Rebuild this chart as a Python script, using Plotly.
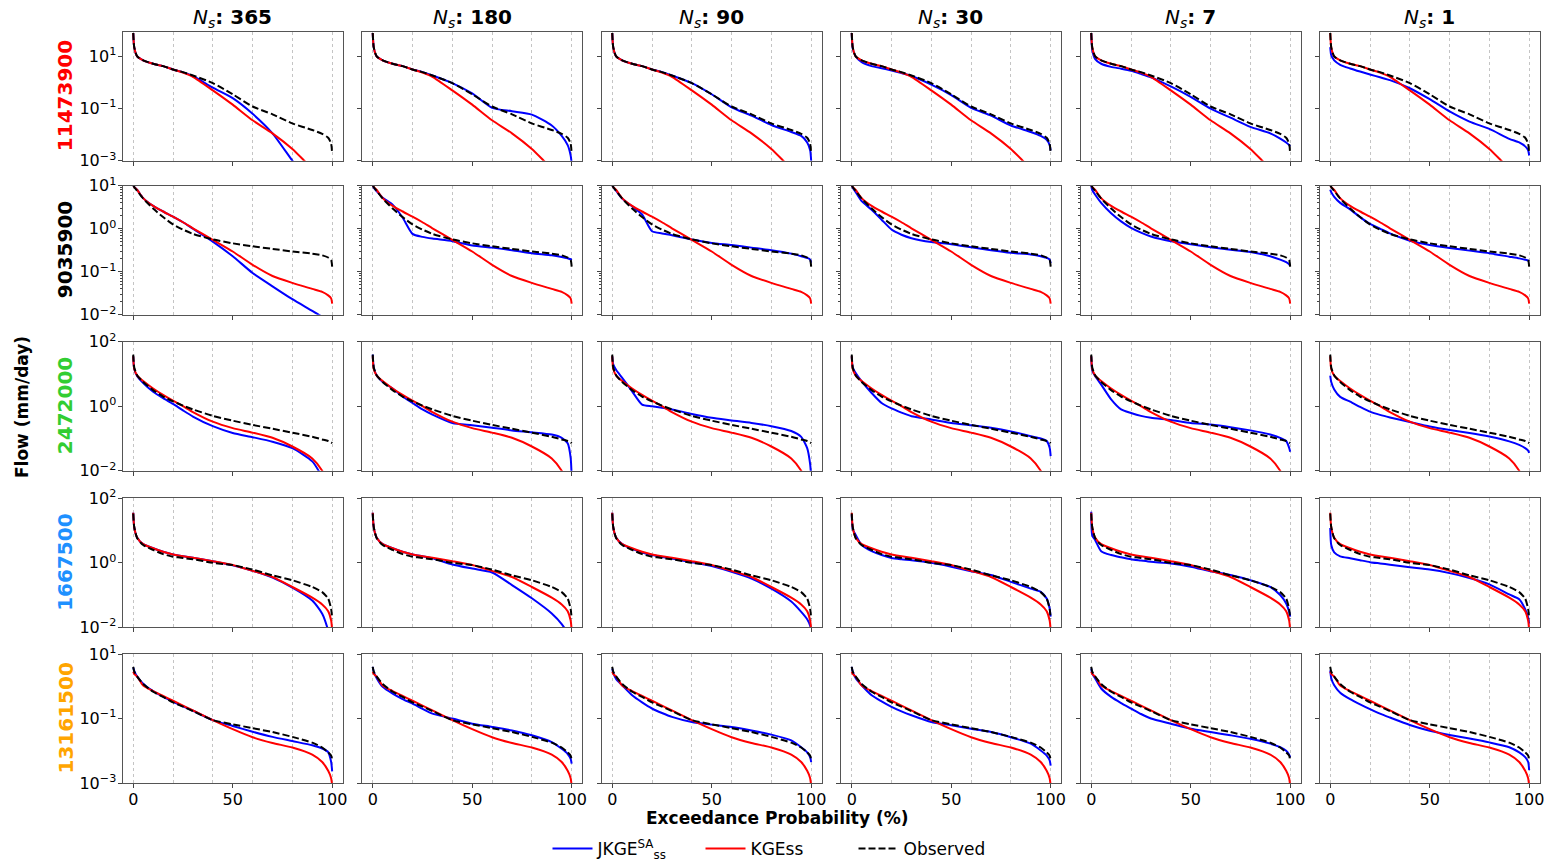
import numpy as np
import plotly.graph_objects as go

# ---------------- data ----------------
# exceedance probability grid (%)
exceedance = [0, 0.5, 2, 5, 10, 15, 20, 25, 30, 40, 50, 60, 70, 80, 90, 95, 98, 99.5, 100]
ns_values = ["365", "180", "90", "30", "7", "1"]
basins = ["11473900", "9035900", "2472000", "1667500", "13161500"]
basin_colors = ["red", "black", "limegreen", "dodgerblue", "orange"]

# all flow values below are log10(flow in mm/day)
# --- basin 11473900 ---
obs_11473900 = [1.9, 1.35, 1.0, 0.85, 0.72, 0.63, 0.5, 0.4, 0.27, -0.02, -0.45, -0.92, -1.22, -1.57, -1.82, -1.97, -2.12, -2.35, -2.75]
kge_11473900 = [1.9, 1.35, 1.0, 0.85, 0.72, 0.63, 0.5, 0.38, 0.22, -0.3, -0.85, -1.45, -1.95, -2.55, -3.3, -3.6, -3.8, -3.9, -4.0]
jk_11473900_365 = [1.9, 1.35, 1.0, 0.85, 0.72, 0.63, 0.5, 0.39, 0.25, -0.2, -0.6, -1.2, -1.95, -3.0, -4.0, -4.5, -4.8, -5.0, -5.1]
jk_11473900_180 = [1.9, 1.35, 1.0, 0.85, 0.72, 0.63, 0.5, 0.4, 0.27, -0.02, -0.42, -0.97, -1.1, -1.23, -1.65, -2.05, -2.4, -2.8, -3.1]
jk_11473900_90 = [1.9, 1.35, 1.0, 0.85, 0.72, 0.63, 0.5, 0.4, 0.27, -0.02, -0.45, -0.95, -1.27, -1.63, -1.9, -2.05, -2.3, -2.6, -3.0]
jk_11473900_30 = [1.9, 1.3, 1.0, 0.78, 0.63, 0.55, 0.46, 0.36, 0.25, -0.08, -0.48, -0.97, -1.27, -1.65, -1.9, -2.05, -2.2, -2.4, -2.6]
jk_11473900_7 = [1.9, 1.25, 0.9, 0.72, 0.6, 0.53, 0.45, 0.33, 0.2, -0.15, -0.55, -1.0, -1.35, -1.7, -1.95, -2.15, -2.3, -2.4, -2.45]
jk_11473900_1 = [1.36, 1.05, 0.85, 0.68, 0.54, 0.42, 0.31, 0.2, 0.09, -0.22, -0.64, -1.11, -1.5, -1.78, -2.16, -2.3, -2.45, -2.6, -2.8]

# --- basin 9035900 ---
obs_9035900 = [1.02, 0.97, 0.88, 0.7, 0.47, 0.27, 0.1, -0.02, -0.12, -0.25, -0.34, -0.41, -0.47, -0.53, -0.58, -0.62, -0.67, -0.73, -0.88]
kge_9035900 = [1.02, 0.97, 0.9, 0.71, 0.53, 0.4, 0.28, 0.15, 0.01, -0.26, -0.53, -0.84, -1.1, -1.26, -1.4, -1.47, -1.55, -1.62, -1.74]
jk_9035900_365 = [1.02, 0.97, 0.9, 0.71, 0.53, 0.4, 0.28, 0.15, 0.0, -0.3, -0.64, -1.03, -1.34, -1.64, -1.91, -2.05, -2.15, -2.2, -2.25]
jk_9035900_180 = [1.02, 0.95, 0.87, 0.72, 0.56, 0.26, -0.12, -0.19, -0.23, -0.29, -0.39, -0.44, -0.5, -0.57, -0.62, -0.66, -0.69, -0.71, -0.73]
jk_9035900_90 = [1.02, 0.97, 0.88, 0.7, 0.52, 0.33, -0.06, -0.11, -0.15, -0.25, -0.33, -0.38, -0.44, -0.5, -0.58, -0.64, -0.68, -0.72, -0.79]
jk_9035900_30 = [1.02, 0.95, 0.85, 0.64, 0.44, 0.21, -0.02, -0.14, -0.22, -0.31, -0.36, -0.43, -0.5, -0.56, -0.6, -0.64, -0.68, -0.72, -0.8]
jk_9035900_7 = [1.0, 0.9, 0.79, 0.6, 0.36, 0.17, 0.02, -0.09, -0.18, -0.29, -0.36, -0.43, -0.49, -0.54, -0.64, -0.72, -0.78, -0.83, -0.87]
jk_9035900_1 = [0.91, 0.85, 0.74, 0.6, 0.45, 0.27, 0.11, 0.0, -0.11, -0.28, -0.38, -0.45, -0.51, -0.57, -0.65, -0.69, -0.72, -0.74, -0.76]

# --- basin 2472000 ---
obs_2472000 = [1.6, 1.2, 0.95, 0.75, 0.5, 0.3, 0.15, 0.02, -0.1, -0.3, -0.45, -0.58, -0.7, -0.82, -0.95, -1.03, -1.08, -1.12, -1.15]
kge_2472000 = [1.55, 1.15, 0.95, 0.78, 0.55, 0.35, 0.17, 0.0, -0.18, -0.48, -0.68, -0.82, -0.98, -1.25, -1.62, -2.0, -2.4, -2.7, -2.8]
jk_2472000_365 = [1.55, 1.15, 0.93, 0.72, 0.45, 0.25, 0.07, -0.13, -0.32, -0.62, -0.83, -0.96, -1.1, -1.3, -1.71, -2.2, -2.6, -2.9, -3.0]
jk_2472000_180 = [1.6, 1.2, 0.95, 0.75, 0.55, 0.3, 0.1, -0.1, -0.26, -0.52, -0.59, -0.67, -0.75, -0.81, -0.88, -0.98, -1.15, -1.6, -2.2]
jk_2472000_90 = [1.55, 1.3, 1.12, 0.88, 0.46, 0.05, 0.0, -0.05, -0.1, -0.24, -0.36, -0.44, -0.52, -0.62, -0.77, -0.95, -1.3, -1.8, -2.2]
jk_2472000_30 = [1.55, 1.2, 1.03, 0.77, 0.41, 0.1, -0.07, -0.2, -0.31, -0.41, -0.52, -0.59, -0.67, -0.78, -0.93, -1.0, -1.08, -1.29, -1.55]
jk_2472000_7 = [1.55, 1.1, 0.93, 0.67, 0.21, -0.1, -0.21, -0.3, -0.36, -0.43, -0.52, -0.57, -0.65, -0.75, -0.88, -0.98, -1.08, -1.29, -1.41]
jk_2472000_1 = [0.95, 0.75, 0.52, 0.29, 0.14, -0.02, -0.17, -0.27, -0.35, -0.49, -0.63, -0.74, -0.83, -0.94, -1.09, -1.2, -1.3, -1.38, -1.45]

# --- basin 1667500 ---
obs_1667500 = [1.53, 1.11, 0.76, 0.55, 0.4, 0.27, 0.19, 0.15, 0.11, 0.0, -0.07, -0.21, -0.39, -0.54, -0.75, -0.91, -1.11, -1.43, -1.74]
kge_1667500 = [1.55, 1.1, 0.78, 0.58, 0.45, 0.34, 0.26, 0.2, 0.16, 0.05, -0.07, -0.25, -0.44, -0.75, -1.08, -1.29, -1.5, -1.79, -2.1]
jk_1667500_365 = [1.55, 1.1, 0.78, 0.58, 0.45, 0.34, 0.26, 0.2, 0.16, 0.05, -0.08, -0.25, -0.46, -0.77, -1.17, -1.58, -2.1, -2.5, -2.7]
jk_1667500_180 = [1.55, 1.1, 0.78, 0.58, 0.45, 0.34, 0.26, 0.2, 0.14, -0.05, -0.18, -0.3, -0.69, -1.1, -1.57, -1.9, -2.2, -2.5, -2.7]
jk_1667500_90 = [1.55, 1.1, 0.78, 0.58, 0.43, 0.32, 0.24, 0.18, 0.13, 0.02, -0.1, -0.28, -0.49, -0.8, -1.2, -1.52, -1.75, -1.95, -2.1]
jk_1667500_30 = [1.5, 1.05, 0.86, 0.55, 0.36, 0.24, 0.15, 0.11, 0.08, 0.0, -0.12, -0.26, -0.38, -0.59, -0.8, -0.9, -1.11, -1.42, -1.67]
jk_1667500_7 = [1.58, 0.85, 0.7, 0.36, 0.24, 0.17, 0.11, 0.07, 0.03, -0.02, -0.12, -0.26, -0.38, -0.54, -0.75, -1.0, -1.26, -1.52, -1.67]
jk_1667500_1 = [1.08, 0.55, 0.32, 0.2, 0.14, 0.08, 0.02, -0.02, -0.06, -0.14, -0.21, -0.32, -0.47, -0.67, -0.98, -1.13, -1.44, -1.7, -1.89]

# --- basin 13161500 ---
obs_13161500 = [0.6, 0.45, 0.3, 0.07, -0.17, -0.33, -0.5, -0.63, -0.77, -1.05, -1.18, -1.3, -1.42, -1.57, -1.75, -1.9, -2.05, -2.15, -2.3]
kge_13161500 = [0.45, 0.38, 0.3, 0.02, -0.15, -0.3, -0.45, -0.6, -0.75, -1.05, -1.33, -1.58, -1.76, -1.9, -2.12, -2.35, -2.62, -2.85, -3.1]
jk_13161500_365 = [0.58, 0.48, 0.3, 0.08, -0.15, -0.32, -0.48, -0.62, -0.76, -1.05, -1.23, -1.41, -1.57, -1.7, -1.83, -1.93, -2.04, -2.35, -2.64]
jk_13161500_180 = [0.6, 0.45, 0.25, -0.02, -0.23, -0.4, -0.54, -0.7, -0.85, -1.0, -1.16, -1.26, -1.37, -1.52, -1.73, -1.94, -2.1, -2.25, -2.4]
jk_13161500_90 = [0.55, 0.42, 0.22, 0.03, -0.28, -0.5, -0.69, -0.83, -0.95, -1.11, -1.19, -1.26, -1.37, -1.5, -1.68, -1.89, -2.05, -2.2, -2.35]
jk_13161500_30 = [0.6, 0.45, 0.25, 0.03, -0.28, -0.47, -0.64, -0.78, -0.9, -1.11, -1.21, -1.32, -1.42, -1.58, -1.78, -1.99, -2.15, -2.3, -2.46]
jk_13161500_7 = [0.55, 0.4, 0.24, -0.07, -0.33, -0.52, -0.69, -0.86, -1.0, -1.16, -1.32, -1.42, -1.52, -1.63, -1.78, -1.89, -2.0, -2.12, -2.2]
jk_13161500_1 = [0.49, 0.25, 0.03, -0.2, -0.4, -0.56, -0.71, -0.85, -0.97, -1.2, -1.38, -1.51, -1.62, -1.74, -1.89, -2.05, -2.2, -2.35, -2.6]

observed = [obs_11473900, obs_9035900, obs_2472000, obs_1667500, obs_13161500]
kgess = [kge_11473900, kge_9035900, kge_2472000, kge_1667500, kge_13161500]
jkge = [
    [jk_11473900_365, jk_11473900_180, jk_11473900_90, jk_11473900_30, jk_11473900_7, jk_11473900_1],
    [jk_9035900_365, jk_9035900_180, jk_9035900_90, jk_9035900_30, jk_9035900_7, jk_9035900_1],
    [jk_2472000_365, jk_2472000_180, jk_2472000_90, jk_2472000_30, jk_2472000_7, jk_2472000_1],
    [jk_1667500_365, jk_1667500_180, jk_1667500_90, jk_1667500_30, jk_1667500_7, jk_1667500_1],
    [jk_13161500_365, jk_13161500_180, jk_13161500_90, jk_13161500_30, jk_13161500_7, jk_13161500_1],
]

# log10 y-axis limits and labelled decades per basin row
y_limits = [(-3, 1.95), (-2, 1), (-2, 2), (-2, 2), (-3, 1)]
y_decades = [[-3, -1, 1], [-2, -1, 0, 1], [-2, 0, 2], [-2, 0, 2], [-3, -1, 1]]

# ---------------- layout geometry (screen pixels) ----------------
OFF = 0                      # body margin is removed in the written page
FW, FH = 1553, 864
col_left = [122.5, 362.0, 601.5, 841.0, 1080.5, 1319.5]
col_w = 220.0
row_top = [31.7, 185.7, 341.7, 498.3, 654.0]
row_h = 129.0


def px(x):
    return (x - OFF) / FW


def py(y):
    return 1 - (y - OFF) / FH


FONT = "DejaVu Sans"
fig = go.Figure()
layout = {}


def sup(e):
    s = str(e).replace("-", "\u2212")
    return "10<sup>" + s + "</sup>"


for r in range(5):
    for c in range(6):
        idx = r * 6 + c + 1
        xname = "x" if idx == 1 else f"x{idx}"
        yname = "y" if idx == 1 else f"y{idx}"
        xkey = "xaxis" if idx == 1 else f"xaxis{idx}"
        ykey = "yaxis" if idx == 1 else f"yaxis{idx}"

        x = np.array(exceedance)
        line_shape = dict(shape="spline", smoothing=0.6)
        fig.add_trace(go.Scatter(
            x=x, y=np.power(10.0, jkge[r][c]), mode="lines",
            line=dict(color="#0000ff", width=2, **line_shape),
            name="JKGE<sup>SA</sup><sub>ss</sub>", legendgroup="jk",
            showlegend=(idx == 1), xaxis=xname, yaxis=yname))
        fig.add_trace(go.Scatter(
            x=x, y=np.power(10.0, kgess[r]), mode="lines",
            line=dict(color="#ff0000", width=2, **line_shape),
            name="KGEss", legendgroup="kge",
            showlegend=(idx == 1), xaxis=xname, yaxis=yname))
        fig.add_trace(go.Scatter(
            x=x, y=np.power(10.0, observed[r]), mode="lines",
            line=dict(color="black", width=2, dash="7px,3px", **line_shape),
            name="Observed", legendgroup="obs",
            showlegend=(idx == 1), xaxis=xname, yaxis=yname))

        layout[xkey] = dict(
            domain=[px(col_left[c]), px(col_left[c] + col_w)], anchor=yname,
            range=[-5.4, 105.2],
            tickmode="array", tickvals=[0, 50, 100],
            ticks="outside", ticklen=4, tickcolor="#444",
            showticklabels=(r == 4), automargin=False, ticklabelstandoff=-2,
            tickfont=dict(family=FONT, size=16, color="black"),
            showgrid=False, zeroline=False,
            showline=True, mirror=True, linecolor="#555", linewidth=1,
            minor=dict(tickmode="array", tickvals=[0, 20, 40, 60, 80, 100],
                       ticks="", showgrid=True, gridcolor="#c4c4c4",
                       griddash="dot", gridwidth=0.8),
        )
        ymin, ymax = y_limits[r]
        yax = dict(
            domain=[py(row_top[r] + row_h), py(row_top[r])], anchor=xname,
            type="log", range=[ymin, ymax],
            tickmode="array",
            tickvals=[10.0 ** e for e in y_decades[r]],
            ticktext=[sup(e) for e in y_decades[r]],
            ticks="outside", ticklen=4, tickcolor="#444",
            showticklabels=(c == 0), automargin=False, ticklabelstandoff=-2,
            tickfont=dict(family=FONT, size=16, color="black"),
            showgrid=False, zeroline=False,
            showline=True, mirror=True, linecolor="#555", linewidth=1,
        )
        if r == 1:
            mv = [m * 10.0 ** d for d in range(-2, 1) for m in range(2, 10)]
            yax["minor"] = dict(tickmode="array", tickvals=mv, ticks="outside",
                                ticklen=2, tickcolor="#444", showgrid=False)
        layout[ykey] = yax

annotations = []
for c, ns in enumerate(ns_values):
    annotations.append(dict(
        x=px(col_left[c] + col_w / 2), y=py(18), xref="paper", yref="paper",
        text="<i>N</i><sub><i>s</i></sub><b>: " + ns + "</b>",
        showarrow=False, font=dict(family=FONT, size=20, color="black"),
        xanchor="center", yanchor="middle"))
for r, (b, col) in enumerate(zip(basins, basin_colors)):
    annotations.append(dict(
        x=px(65), y=py(row_top[r] + row_h / 2), xref="paper", yref="paper",
        text="<b>" + b + "</b>", textangle=-90, showarrow=False,
        font=dict(family=FONT, size=20, color=col),
        xanchor="center", yanchor="middle"))
annotations.append(dict(
    x=px(22), y=py(407), xref="paper", yref="paper",
    text="<b>Flow (mm/day)</b>", textangle=-90, showarrow=False,
    font=dict(family=FONT, size=17, color="black"),
    xanchor="center", yanchor="middle"))
annotations.append(dict(
    x=px(777), y=py(818), xref="paper", yref="paper",
    text="<b>Exceedance Probability (%)</b>", showarrow=False,
    font=dict(family=FONT, size=17, color="black"),
    xanchor="center", yanchor="middle"))

fig.update_layout(
    width=FW, height=FH,
    margin=dict(l=0, r=0, t=0, b=0, autoexpand=False),
    paper_bgcolor="white", plot_bgcolor="white",
    font=dict(family=FONT, size=16, color="black"),
    annotations=annotations,
    showlegend=True,
    legend=dict(orientation="h", x=px(777), xanchor="center",
                y=py(849), yanchor="middle",
                font=dict(family=FONT, size=17, color="black"),
                itemwidth=40, entrywidth=98, entrywidthmode="pixels",
                bgcolor="rgba(0,0,0,0)"),
    **layout,
)

fig.write_html("out.html",
               config={"displayModeBar": False},
               post_script="document.body.style.margin='0px';")
